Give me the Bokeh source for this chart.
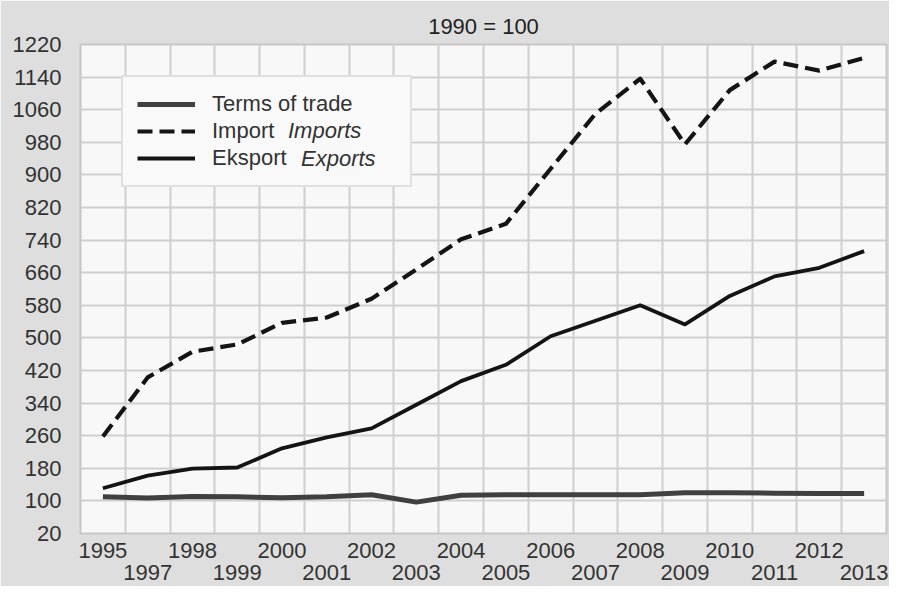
from bokeh.plotting import figure
from bokeh.models import (LinearAxis, FixedTicker, Range1d, Legend, LegendItem,
                          ColumnDataSource)
from bokeh.embed import file_html
from bokeh.resources import INLINE

# ---- data (1990 = 100) ----
years = ["1995", "1997", "1998", "1999", "2000", "2001", "2002", "2003", "2004",
         "2005", "2006", "2007", "2008", "2009", "2010", "2011", "2012", "2013"]
terms_of_trade = [110, 107, 111, 110, 108, 110, 115, 97, 114,
                  115, 115, 115, 115, 120, 120, 119, 118, 118]
imports = [258, 403, 466, 484, 537, 550, 596, 668, 742,
           780, 915, 1050, 1136, 975, 1108, 1178, 1156, 1187]
exports = [131, 162, 179, 182, 229, 256, 278, 336, 394,
           434, 504, 542, 580, 533, 603, 651, 672, 713]
y_ticks = list(range(20, 1221, 80))

FONT = "Liberation Sans"
TXT = "#333333"
FS = "22px"

idx = list(range(len(years)))
src = ColumnDataSource(dict(x=idx, tot=terms_of_trade, imp=imports, exp=exports))

p = figure(width=889, height=586, output_backend="svg", toolbar_location=None,
           x_range=Range1d(-0.5, len(years) - 0.5), y_range=Range1d(20, 1220),
           title="1990 = 100",
           min_border_left=80, min_border_right=3, min_border_top=44,
           min_border_bottom=53)

p.border_fill_color = "#dedede"
p.background_fill_color = "#f8f8f8"
p.outline_line_color = "#c6c6c6"
p.outline_line_width = 2

p.title.align = "center"
p.title.text_font = FONT
p.title.text_font_size = FS
p.title.text_font_style = "normal"
p.title.text_color = "#222222"
p.title.standoff = 12

# y axis
yax = p.yaxis[0]
yax.ticker = FixedTicker(ticks=y_ticks)
yax.axis_line_color = None
yax.major_tick_line_color = None
yax.minor_tick_line_color = None
yax.major_label_text_font = FONT
yax.major_label_text_font_size = FS
yax.major_label_text_color = TXT
yax.major_label_standoff = 13

# x axes: two staggered rows of year labels
even = [i for i in idx if i % 2 == 0]
odd = [i for i in idx if i % 2 == 1]
ax1 = p.xaxis[0]
ax1.ticker = FixedTicker(ticks=even)
ax1.major_label_overrides = {i: years[i] for i in even}
ax2 = LinearAxis(ticker=FixedTicker(ticks=odd),
                 major_label_overrides={i: years[i] for i in odd})
p.add_layout(ax2, "below")
for ax, so in ((ax1, 9), (ax2, 4)):
    ax.axis_line_color = None
    ax.major_tick_line_color = None
    ax.minor_tick_line_color = None
    ax.major_tick_out = 0
    ax.major_tick_in = 0
    ax.major_label_text_font = FONT
    ax.major_label_text_font_size = FS
    ax.major_label_text_color = TXT
    ax.major_label_standoff = so

# grids
p.xgrid[0].ticker = FixedTicker(ticks=[i + 0.5 for i in idx[:-1]])
for g in (p.xgrid[0], p.ygrid[0]):
    g.grid_line_color = "#cfcfcf"
    g.grid_line_width = 2

# lines
r_tot = p.line("x", "tot", source=src, line_color="#404040", line_width=5,
               line_join="round")
r_imp = p.line("x", "imp", source=src, line_color="#141414", line_width=4.2,
               line_dash="15 7", line_join="round")
r_exp = p.line("x", "exp", source=src, line_color="#141414", line_width=3.8,
               line_join="round")

# invisible renderers used only for the italic second halves of legend labels
d_imp = p.line("x", "imp", source=src, line_alpha=0)
d_exp = p.line("x", "exp", source=src, line_alpha=0)

LEG_Y = 346      # legend bottom, px above the plot frame's bottom
PAD = 14
ROW_H = 28
GAP = 1


def style(lg):
    lg.label_text_font = FONT
    lg.label_text_font_size = FS
    lg.label_text_color = TXT
    lg.glyph_height = 20
    lg.label_height = 20
    lg.spacing = GAP
    lg.margin = 0


legend = Legend(items=[LegendItem(label="Terms of trade", renderers=[r_tot]),
                       LegendItem(label="Import", renderers=[r_imp]),
                       LegendItem(label="Eksport", renderers=[r_exp])],
                location=(41, LEG_Y))
style(legend)
legend.glyph_width = 58
legend.label_width = 184
legend.padding = PAD
legend.label_standoff = 17
legend.border_line_color = "#c8c8c8"
legend.border_line_width = 2
legend.background_fill_color = "#f9f9f9"
legend.background_fill_alpha = 1.0
p.add_layout(legend, "center")

# italic English words, aligned to rows 2 and 3 of the legend above
for txt, rend, xs, ys in (("Imports", d_imp, 207, LEG_Y + PAD + ROW_H + GAP),
                          ("Exports", d_exp, 220, LEG_Y + PAD + 1)):
    lg = Legend(items=[LegendItem(label=txt, renderers=[rend])], location=(xs, ys))
    style(lg)
    lg.label_text_font_style = "italic"
    lg.glyph_width = 1
    lg.padding = 0
    lg.label_standoff = 0
    lg.border_line_color = None
    lg.background_fill_alpha = 0
    p.add_layout(lg, "center")

open("out.html", "w").write(file_html(p, INLINE))
